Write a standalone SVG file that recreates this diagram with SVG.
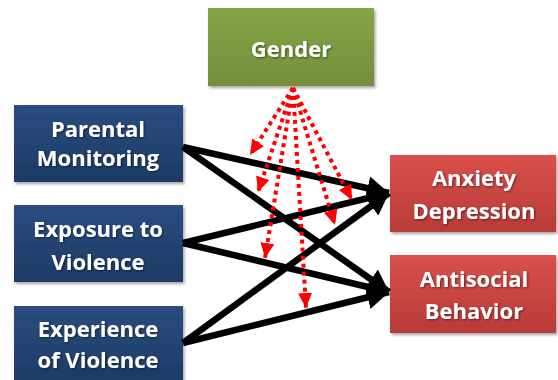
<svg xmlns="http://www.w3.org/2000/svg" width="558" height="380" viewBox="0 0 558 380">
<defs>
<linearGradient id="gBlue" x1="0" y1="0" x2="0" y2="1"><stop offset="0" stop-color="#2a4d7f"/><stop offset="1" stop-color="#1c3a66"/></linearGradient>
<linearGradient id="gGreen" x1="0" y1="0" x2="0" y2="1"><stop offset="0" stop-color="#86a447"/><stop offset="1" stop-color="#748f3b"/></linearGradient>
<linearGradient id="gRed" x1="0" y1="0" x2="0" y2="1"><stop offset="0" stop-color="#d9504c"/><stop offset="1" stop-color="#b83b37"/></linearGradient>
<filter id="sh" x="-10%" y="-10%" width="130%" height="130%"><feDropShadow dx="1.5" dy="2" stdDeviation="1.5" flood-color="#000" flood-opacity="0.35"/></filter>
<filter id="tsh" x="-10%" y="-20%" width="130%" height="150%"><feDropShadow dx="1" dy="1" stdDeviation="0.8" flood-color="#000" flood-opacity="0.5"/></filter>
<marker id="ahB" markerUnits="userSpaceOnUse" markerWidth="24" markerHeight="24" refX="22" refY="12" orient="auto" viewBox="0 0 24 24"><path d="M0,0 L22,12 L0,24 Z" fill="#000"/></marker>
<marker id="ahR" markerUnits="userSpaceOnUse" markerWidth="16" markerHeight="16" refX="15" refY="8" orient="auto" viewBox="0 0 16 16"><path d="M0,1 L15,8 L0,15 Z" fill="#ff0000"/></marker>
</defs>
<style>
.box{stroke:none;filter:url(#sh)}
.t{font-family:"Open Sans","Liberation Sans",sans-serif;font-weight:bold;font-size:22px;fill:#fff;text-anchor:middle;filter:url(#tsh)}
.blk{stroke:#000;stroke-width:6.5;fill:none;marker-end:url(#ahB)}
.red{stroke:#ff0000;stroke-width:4;fill:none;stroke-dasharray:4 4;marker-end:url(#ahR)}
</style>
<g id="gender"><rect class="box" x="208" y="8" width="166" height="78" fill="url(#gGreen)"/><text class="t" x="291" y="57">Gender</text></g>
<g id="parental"><rect class="box" x="14" y="105" width="169" height="77" fill="url(#gBlue)"/><text class="t" x="98" y="137">Parental</text><text class="t" x="98" y="166">Monitoring</text></g>
<g id="exposure"><rect class="box" x="14" y="205" width="169" height="77" fill="url(#gBlue)"/><text class="t" x="98" y="237">Exposure to</text><text class="t" x="98" y="270">Violence</text></g>
<g id="experience"><rect class="box" x="14" y="306" width="169" height="80" fill="url(#gBlue)"/><text class="t" x="98" y="337">Experience</text><text class="t" x="98" y="368">of Violence</text></g>
<g id="anxiety"><rect class="box" x="390" y="155" width="166" height="77" fill="url(#gRed)"/><text class="t" x="474" y="186">Anxiety</text><text class="t" x="474" y="219">Depression</text></g>
<g id="antisocial"><rect class="box" x="390" y="255" width="166" height="78" fill="url(#gRed)"/><text class="t" x="474" y="287">Antisocial</text><text class="t" x="474" y="319">Behavior</text></g>
<g id="connectors">
<line class="blk" x1="183" y1="147" x2="389" y2="193"/>
<line class="blk" x1="183" y1="147" x2="389" y2="292"/>
<line class="blk" x1="183" y1="243" x2="389" y2="193"/>
<line class="blk" x1="183" y1="243" x2="389" y2="292"/>
<line class="blk" x1="183" y1="343" x2="389" y2="193"/>
<line class="blk" x1="183" y1="343" x2="389" y2="292"/>
<line class="red" x1="293" y1="88" x2="250" y2="155"/>
<line class="red" x1="293" y1="88" x2="258" y2="192"/>
<line class="red" x1="293" y1="88" x2="265" y2="258"/>
<line class="red" x1="293" y1="88" x2="306" y2="308"/>
<line class="red" x1="293" y1="88" x2="335" y2="225"/>
<line class="red" x1="293" y1="88" x2="352" y2="200"/>
</g>
</svg>
